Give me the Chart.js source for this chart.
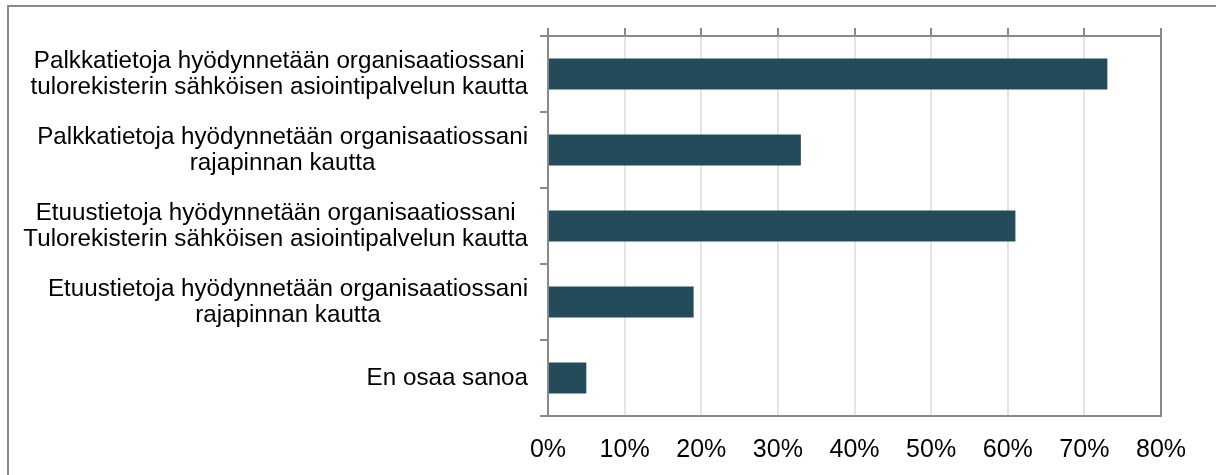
<!DOCTYPE html>
<html>
<head>
<meta charset="utf-8">
<script src="https://cdn.jsdelivr.net/npm/chart.js@4"></script>
<style>
  html, body { margin: 0; padding: 0; background: #fff; }
  #wrap { width: 1216px; height: 475px; }
</style>
</head>
<body>
<div id="wrap"><canvas id="chart"></canvas></div>
<script>
/* Data */
const categories = [
  ["Palkkatietoja hyödynnetään organisaatiossani", "tulorekisterin sähköisen asiointipalvelun kautta"],
  ["Palkkatietoja hyödynnetään organisaatiossani", "rajapinnan kautta"],
  ["Etuustietoja hyödynnetään organisaatiossani ", "Tulorekisterin sähköisen asiointipalvelun kautta"],
  ["Etuustietoja hyödynnetään organisaatiossani", "rajapinnan kautta"],
  ["En osaa sanoa"]
];
const shares = [73, 33, 61, 19, 5];
const xTicks = [0, 10, 20, 30, 40, 50, 60, 70, 80];

const FONT = "'Liberation Sans', Arial, sans-serif";
const AXIS = '#898989';

/* Draws the category labels (lines centred inside each right-aligned block),
   the outer frame and the right edge of the plot */
const framePlugin = {
  id: 'frame',
  afterDraw(chart) {
    const ctx = chart.ctx;
    const area = chart.chartArea;
    const y = chart.scales.y;
    ctx.save();
    ctx.strokeStyle = AXIS;
    ctx.lineWidth = 2;
    ctx.beginPath();
    ctx.moveTo(8, 475);
    ctx.lineTo(8, 6);
    ctx.lineTo(1216, 6);
    ctx.moveTo(Math.round(area.right), area.top - 8);
    ctx.lineTo(Math.round(area.right), area.bottom);
    ctx.stroke();

    ctx.font = '24.2px ' + FONT;
    ctx.fillStyle = '#000';
    ctx.textAlign = 'center';
    ctx.textBaseline = 'middle';
    const rightEdge = area.left - 20;
    const lh = 26;
    categories.forEach((lines, i) => {
      const cy = y.getPixelForValue(i);
      const w = Math.max(...lines.map(l => ctx.measureText(l.trim()).width));
      const cx = rightEdge - w / 2;
      lines.forEach((l, j) => {
        ctx.fillText(l.trim(), cx, cy + (j - (lines.length - 1) / 2) * lh);
      });
    });
    ctx.restore();
  }
};

new Chart(document.getElementById('chart'), {
  type: 'bar',
  data: {
    labels: categories,
    datasets: [{
      data: shares,
      backgroundColor: '#244b5a',
      barPercentage: 0.41,
      categoryPercentage: 1
    }]
  },
  options: {
    indexAxis: 'y',
    responsive: true,
    maintainAspectRatio: false,
    animation: false,
    layout: { padding: { left: 0, top: 0, right: 55, bottom: 0 } },
    plugins: { legend: { display: false }, tooltip: { enabled: false } },
    scales: {
      x: {
        position: 'bottom',
        min: 0,
        max: 80,
        afterBuildTicks(scale) { scale.ticks = xTicks.map(v => ({ value: v })); },
        ticks: {
          callback: v => v + '%',
          color: '#000',
          font: { family: FONT, size: 25 },
          padding: 19,
          maxRotation: 0
        },
        grid: { color: '#e4e4e4', lineWidth: 2, drawTicks: false },
        border: { display: true, color: AXIS, width: 2 },
        afterFit(scale) { scale.height = 59; }
      },
      x2: {
        position: 'top',
        min: 0,
        max: 80,
        afterBuildTicks(scale) { scale.ticks = xTicks.map(v => ({ value: v })); },
        ticks: { display: false },
        grid: { drawOnChartArea: false, color: AXIS, lineWidth: 2, tickLength: 8 },
        border: { display: true, color: AXIS, width: 2 },
        afterFit(scale) { scale.height = 36; }
      },
      y: {
        position: 'left',
        ticks: { display: false },
        grid: { offset: true, drawOnChartArea: false, color: AXIS, lineWidth: 2, tickLength: 8 },
        border: { display: true, color: AXIS, width: 2 },
        afterFit(scale) { scale.width = 548; }
      }
    }
  },
  plugins: [framePlugin]
});
</script>
</body>
</html>
